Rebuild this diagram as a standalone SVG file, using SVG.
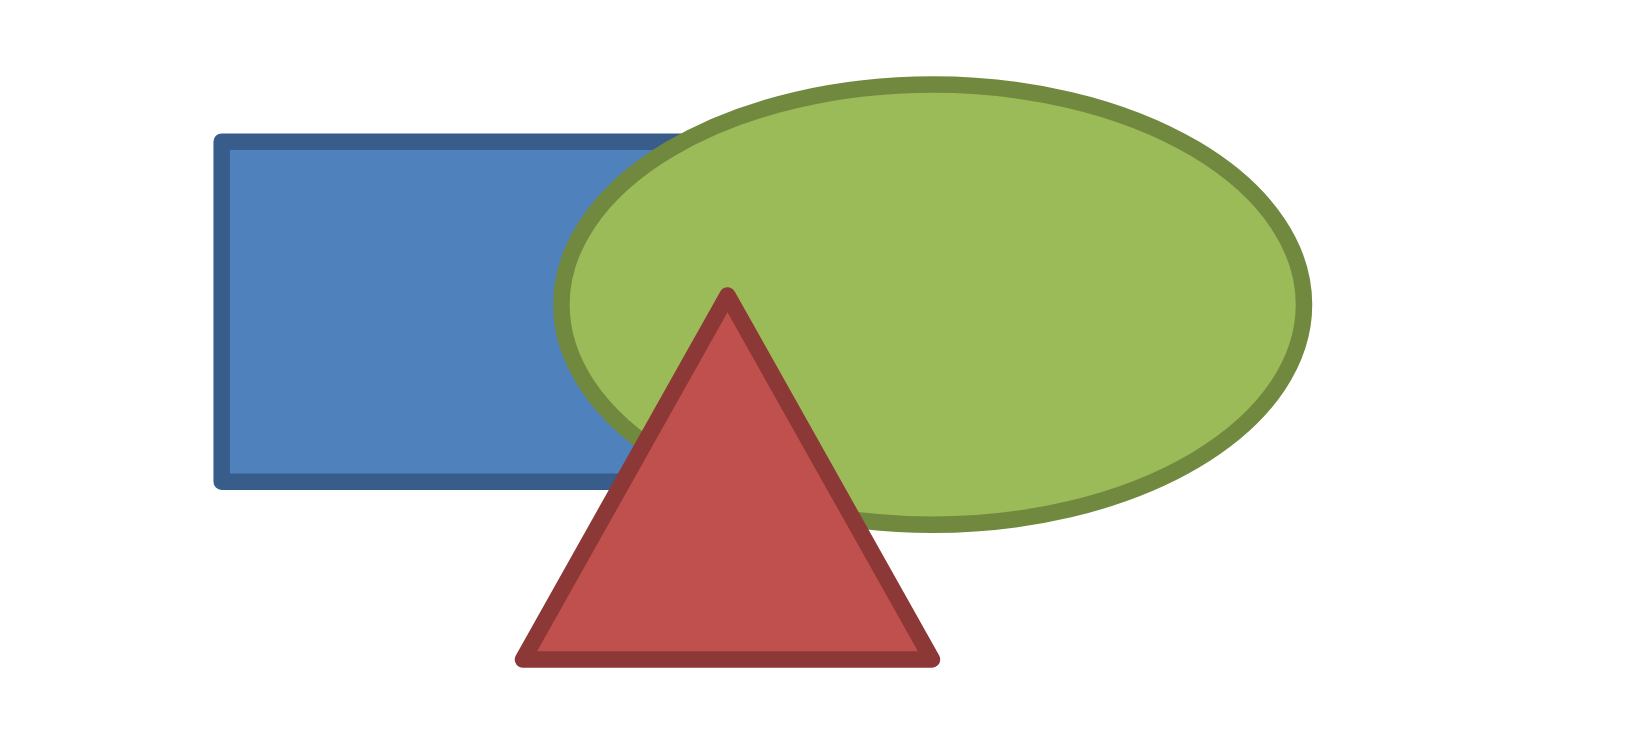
<svg xmlns="http://www.w3.org/2000/svg" width="1639" height="748" viewBox="0 0 1639 748">
<style>
.s{stroke-width:16.5;stroke-linejoin:round}
</style>
<rect width="1639" height="748" fill="#FFFFFF"/>
<g id="rectangle"><rect class="s" x="221.7" y="141.7" width="500" height="340" fill="#4F81BD" stroke="#385D8A"/></g>
<g id="ellipse"><ellipse class="s" cx="932.7" cy="304.6" rx="371.3" ry="220.1" fill="#9BBB59" stroke="#71893F"/></g>
<g id="triangle"><polygon class="s" points="727.5,295.5 523,659.5 932,659.5" fill="#C0504D" stroke="#8C3836"/></g>
<g id="connectors"></g>
</svg>
